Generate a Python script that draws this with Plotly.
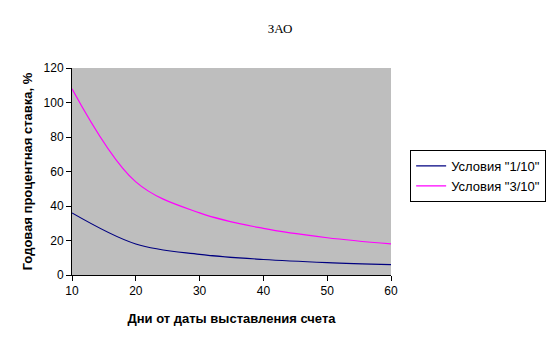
import plotly.graph_objects as go

days = [10, 20, 30, 40, 50, 60]
rate_1_10 = [36, 18, 12, 9, 7.2, 6]
rate_3_10 = [108, 54, 36, 27, 21.6, 18]
series_names = ['Условия "1/10"', 'Условия "3/10"']
series_colors = ["#000080", "#ff00ff"]
x_ticks = [10, 20, 30, 40, 50, 60]
y_ticks = [0, 20, 40, 60, 80, 100, 120]

fig = go.Figure()
for name, vals, col in zip(series_names, [rate_1_10, rate_3_10], series_colors):
    fig.add_trace(go.Scatter(x=days, y=vals, name=name, mode="lines",
                             line=dict(color=col, width=1.2, shape="spline", smoothing=1)))

fig.update_layout(
    width=549, height=346,
    margin=dict(l=72, r=158, t=68, b=71, autoexpand=False),
    paper_bgcolor="white", plot_bgcolor="#bebebe",
    font=dict(family="Liberation Sans, Arial", size=12, color="black"),
    title=dict(text="ЗАО", x=280/549, xanchor="center", y=1 - 28/346, yanchor="middle",
               font=dict(family="Liberation Serif, Times New Roman", size=13, color="black")),
    showlegend=True,
    legend=dict(x=1.06, y=0.604, xanchor="left", yanchor="top",
                bordercolor="black", borderwidth=1, bgcolor="white",
                font=dict(size=13), itemwidth=30, tracegroupgap=2),
)
fig.update_xaxes(range=[10, 60], tickvals=x_ticks, showgrid=False, zeroline=False,
                 showline=True, linecolor="black", linewidth=1, ticks="outside",
                 ticklen=5, tickcolor="black", tickfont=dict(size=12),
                 title=dict(text="<b>Дни от даты выставления счета</b>", standoff=16,
                            font=dict(size=13)))
fig.update_yaxes(range=[0, 120], tickvals=y_ticks, showgrid=False, zeroline=False,
                 showline=True, linecolor="black", linewidth=1, ticks="outside",
                 ticklen=5, tickcolor="black", tickfont=dict(size=12),
                 title=dict(text="<b>Годовая процентная ставка, %</b>", standoff=8,
                            font=dict(size=13)))

fig.write_html("out.html")
